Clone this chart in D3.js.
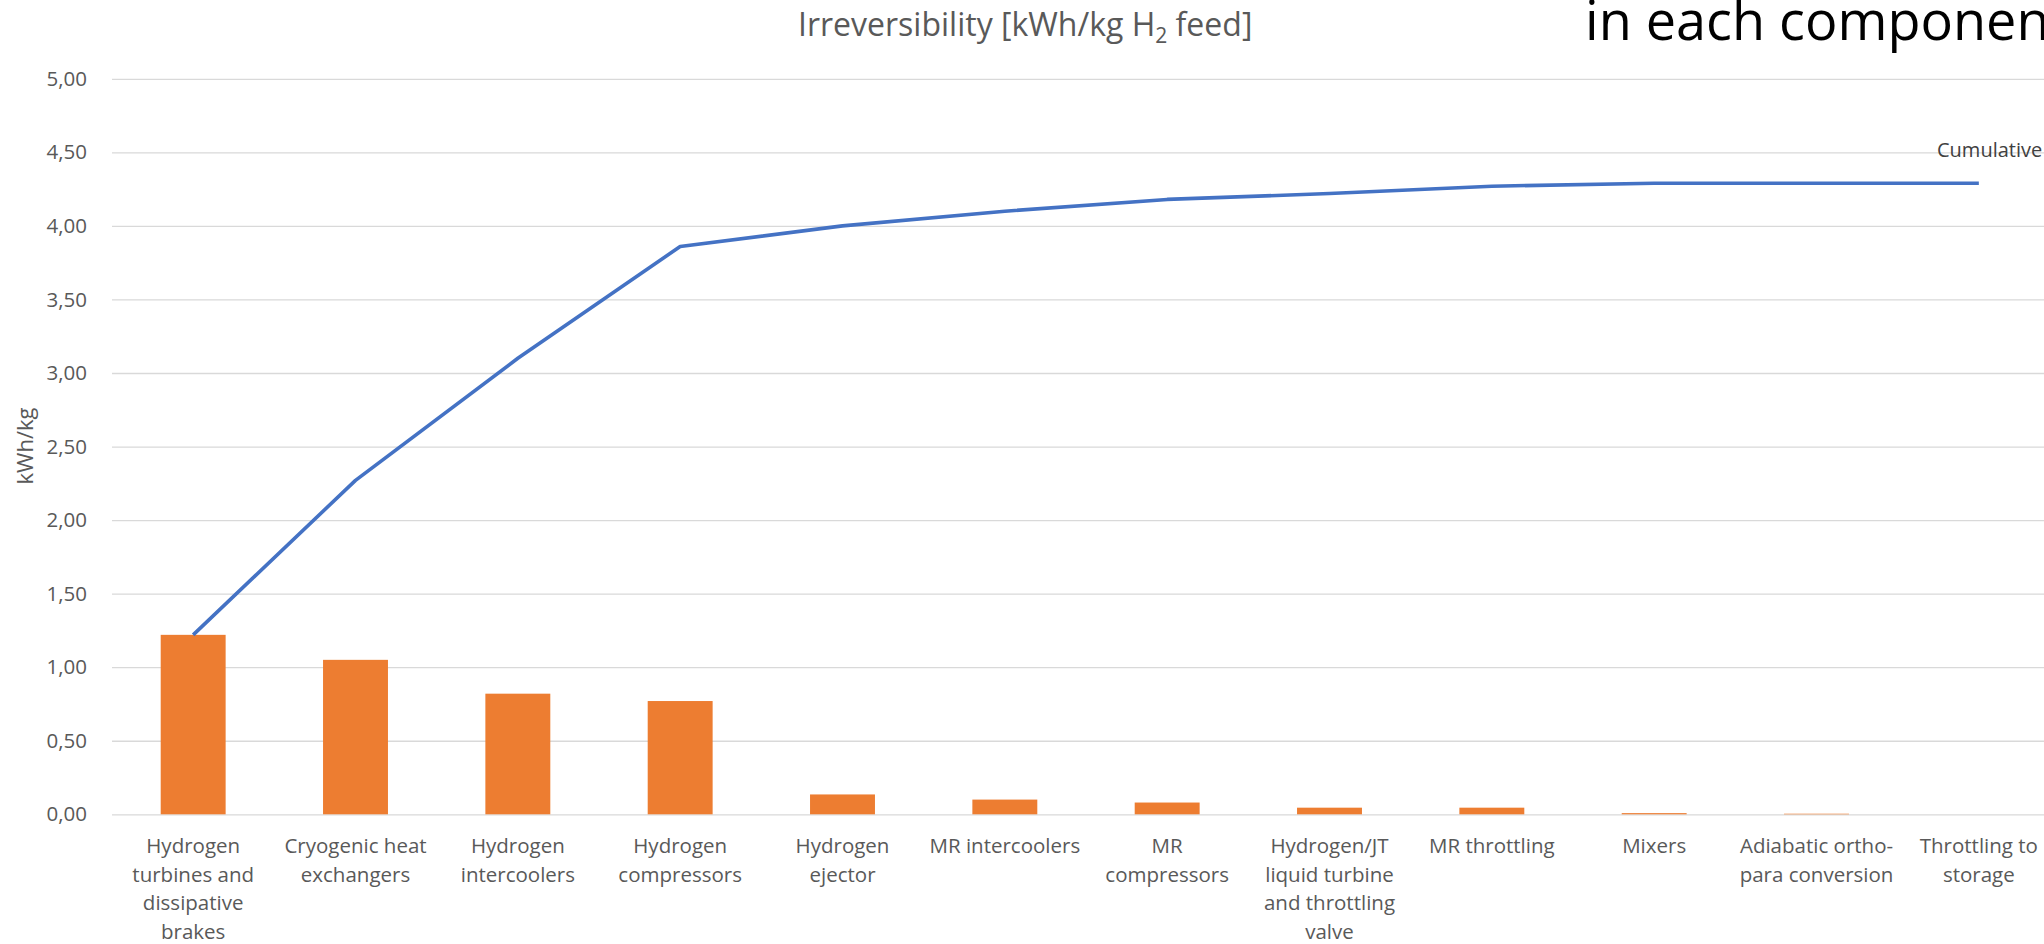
<!DOCTYPE html>
<html>
<head>
<meta charset="utf-8">
<script src="https://cdn.jsdelivr.net/npm/d3@7"></script>
<style>
  html, body { margin: 0; padding: 0; background: #fff; overflow: hidden; }
  svg { display: block; font-family: "Open Sans", sans-serif; }
</style>
</head>
<body>
<div id="chart"></div>
<script>
// categories (line breaks as in the picture)
var categories = [
  "Hydrogen\nturbines and\ndissipative\nbrakes",
  "Cryogenic heat\nexchangers",
  "Hydrogen\nintercoolers",
  "Hydrogen\ncompressors",
  "Hydrogen\nejector",
  "MR intercoolers",
  "MR\ncompressors",
  "Hydrogen/JT\nliquid turbine\nand throttling\nvalve",
  "MR throttling",
  "Mixers",
  "Adiabatic ortho-\npara conversion",
  "Throttling to\nstorage"
];

// irreversibility per component, kWh/kg
var irreversibility = [1.22, 1.05, 0.82, 0.77, 0.135, 0.10, 0.08, 0.045, 0.045, 0.008, 0.004, 0.0];

// cumulative line, kWh/kg
var cumulative = [1.22, 2.27, 3.10, 3.86, 4.00, 4.10, 4.18, 4.22, 4.27, 4.29, 4.29, 4.29];

var yTicks = [0, 0.5, 1, 1.5, 2, 2.5, 3, 3.5, 4, 4.5, 5];

var width = 2044, height = 944;
// plot area (note: "top" is reserved on window, so use other names)
var plotLeft = 112, plotRight = 2060, plotTop = 78.8, plotBottom = 814.3;

var svg = d3.select("#chart").append("svg")
  .attr("width", width)
  .attr("height", height);

var x = d3.scaleBand()
  .domain(categories)
  .range([plotLeft, plotRight])
  .paddingInner(0.6)
  .paddingOuter(0.3);

var y = d3.scaleLinear()
  .domain([0, 5])
  .range([plotBottom, plotTop]);

var fmt = d3.formatLocale({decimal: ",", thousands: ".", grouping: [3], currency: ["", ""]}).format(".2f");

// gridlines + y tick labels
var yAxis = svg.append("g")
  .attr("transform", "translate(" + plotLeft + ",0)")
  .call(d3.axisLeft(y).tickValues(yTicks).tickFormat(fmt)
    .tickSize(-(plotRight - plotLeft)).tickPadding(25));
yAxis.select(".domain").remove();
yAxis.selectAll(".tick line").attr("stroke", "#d9d9d9").attr("stroke-width", 1.3);
yAxis.selectAll(".tick text")
  .attr("fill", "#595959")
  .style("font-size", "20.5px")
  .style("font-family", "'Open Sans', sans-serif");

// bars
svg.append("g").selectAll("rect")
  .data(irreversibility)
  .enter().append("rect")
  .attr("x", function(d, i) { return x(categories[i]); })
  .attr("width", x.bandwidth())
  .attr("y", function(d) { return y(d); })
  .attr("height", function(d) { return y(0) - y(d); })
  .attr("fill", "#ed7d31");

// cumulative line
var line = d3.line()
  .x(function(d, i) { return x(categories[i]) + x.bandwidth() / 2; })
  .y(function(d) { return y(d); });

svg.append("path")
  .datum(cumulative)
  .attr("d", line)
  .attr("fill", "none")
  .attr("stroke", "#4472c4")
  .attr("stroke-width", 3.6)
  .attr("stroke-linejoin", "round");

// x axis labels
var xAxis = svg.append("g")
  .attr("transform", "translate(0," + plotBottom + ")")
  .call(d3.axisBottom(x).tickSize(0));
xAxis.select(".domain").remove();
xAxis.selectAll(".tick text").each(function(d) {
  var t = d3.select(this);
  t.text(null).attr("y", 39).attr("dy", null)
    .attr("fill", "#595959")
    .style("font-size", "20.5px")
    .style("font-family", "'Open Sans', sans-serif");
  d.split("\n").forEach(function(s, k) {
    t.append("tspan").attr("x", 0).attr("dy", k === 0 ? 0 : 28.5).text(s);
  });
});

// y axis title
svg.append("text")
  .attr("transform", "translate(33,446) rotate(-90)")
  .attr("text-anchor", "middle")
  .attr("fill", "#595959")
  .style("font-size", "22px")
  .text("kWh/kg");

// chart title
var title = svg.append("text")
  .attr("x", 798)
  .attr("y", 36)
  .attr("fill", "#595959")
  .style("font-size", "32px");
title.append("tspan").text("Irreversibility [kWh/kg H");
title.append("tspan").attr("dy", 7).style("font-size", "21px").text("2");
title.append("tspan").attr("dy", -7).text(" feed]");

// big slide heading, cut at the right edge like in the picture
svg.append("text")
  .attr("x", 1585)
  .attr("y", 40)
  .attr("fill", "#000")
  .style("font-size", "54px")
  .text("in each component");

// series label
svg.append("text")
  .attr("x", 1937)
  .attr("y", 157)
  .attr("fill", "#404040")
  .style("font-size", "20px")
  .text("Cumulative");
</script>
</body>
</html>
